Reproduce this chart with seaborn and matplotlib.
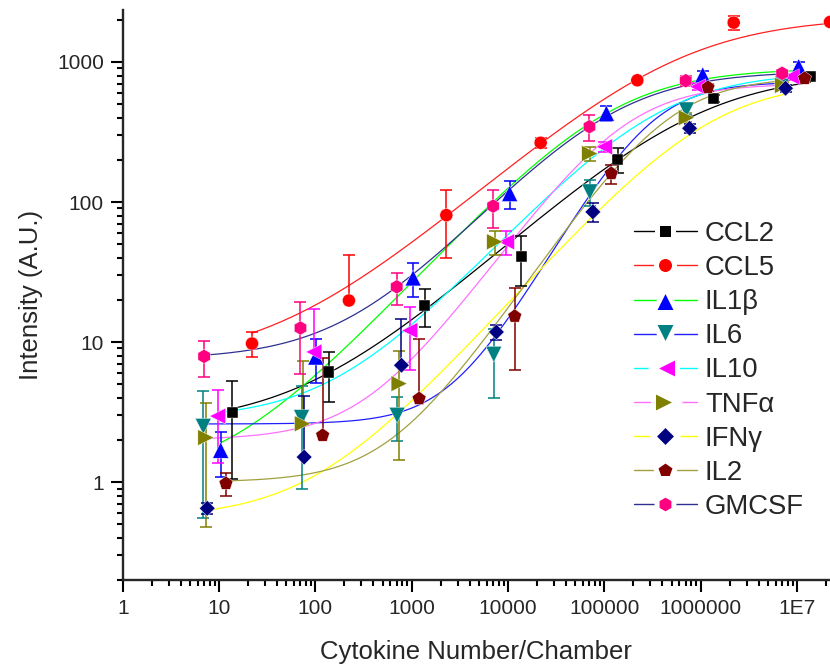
import numpy as np
import pandas as pd
import matplotlib
matplotlib.use("Agg")
import matplotlib.pyplot as plt
from matplotlib.lines import Line2D
from matplotlib.ticker import LogLocator, FixedLocator, FixedFormatter, NullFormatter
import seaborn as sns

sns.set_style("ticks")
plt.rcParams['font.family'] = ['Liberation Sans', 'DejaVu Sans']

# ---------------- data ----------------
cytokines = ["CCL2", "CCL5", "IL1β", "IL6", "IL10", "TNFα", "IFNγ", "IL2", "GMCSF"]

x_CCL2 = [13.7, 137, 1370, 13700, 1.37e5, 1.37e6, 1.37e7]
y_CCL2 = [3.16, 6.11, 18.3, 41.1, 202, 547, 785]
e_CCL2 = [2.1, 2.4, 5.5, 16, 40, 30, 30]

x_CCL5 = [22, 223, 2290, 21800, 2.2e5, 2.2e6, 2.2e7]
y_CCL5 = [9.76, 19.8, 80.6, 265, 740, 1910, 1930]
e_CCL5 = [2.0, 22, 41, 20, 20, 220, 0]

x_IL1b = [10.4, 101, 1035, 10400, 1.05e5, 1.05e6, 1.04e7]
y_IL1b = [1.69, 7.82, 28.7, 115, 430, 808, 925]
e_IL1b = [0.6, 2.7, 7.7, 26, 52, 60, 80]

x_IL6 = [6.86, 71.9, 706, 7110, 70500, 7.1e5, 7.1e6]
y_IL6 = [2.5, 2.89, 3.0, 8.18, 118, 454, 700]
e_IL6 = [1.95, 2.0, 1.05, 4.2, 25, 35, 40]

x_IL10 = [9.67, 96.5, 955, 9620, 1.0e5, 9.35e5, 8.7e6]
y_IL10 = [2.96, 8.5, 12.1, 52, 248, 666, 785]
e_IL10 = [1.6, 8.7, 5.8, 10, 20, 40, 40]

x_TNFa = [7.3, 73.6, 740, 7280, 70500, 7.1e5, 7.1e6]
y_TNFa = [2.08, 2.61, 5.05, 52, 222, 400, 680]
e_TNFa = [1.6, 4.7, 3.6, 10, 25, 30, 40]

x_IFNg = [7.55, 76.5, 783, 7580, 7.6e4, 7.67e5, 7.6e6]
y_IFNg = [0.65, 1.51, 6.83, 11.8, 85, 336, 649]
e_IFNg = [0.06, 2.6, 7.9, 1.5, 13, 25, 40]

x_IL2 = [11.8, 119, 1194, 11740, 1.18e5, 1.19e6, 1.2e7]
y_IL2 = [0.98, 2.16, 3.95, 15.3, 160, 659, 764]
e_IL2 = [0.19, 5.5, 6.6, 9, 25, 40, 40]

x_GMCSF = [7, 70, 700, 7000, 7e4, 7e5, 7e6]
y_GMCSF = [7.9, 12.6, 24.8, 93.5, 345, 735, 830]
e_GMCSF = [2.3, 6.7, 6.3, 28, 73, 60, 40]

# logistic fit parameters (Origin form: y = A2 + (A1-A2)/(1+(x/x0)^p))
fit_A1 = [2.5, 7.0, 1.0, 2.6, 2.8, 2.0, 0.55, 1.0, 7.5]
fit_A2 = [850, 2100, 900, 720, 850, 700, 740, 780, 860]
fit_x0 = [9.34e5, 5.9e5, 1.19e5, 2.95e5, 3.48e5, 1.6e5, 1.25e6, 4.6e5, 1.23e5]
fit_p = [0.621, 0.6, 0.738, 1.2, 0.747, 0.95, 0.76, 1.0, 0.75]

x_ticks = [1, 10, 100, 1000, 1e4, 1e5, 1e6, 1e7]
x_ticklabels = ["1", "10", "100", "1000", "10000", "100000", "1000000", "1E7"]
y_ticks = [1, 10, 100, 1000]
y_ticklabels = ["1", "10", "100", "1000"]

# ---------------- styles ----------------
xs_all = [x_CCL2, x_CCL5, x_IL1b, x_IL6, x_IL10, x_TNFa, x_IFNg, x_IL2, x_GMCSF]
ys_all = [y_CCL2, y_CCL5, y_IL1b, y_IL6, y_IL10, y_TNFa, y_IFNg, y_IL2, y_GMCSF]
es_all = [e_CCL2, e_CCL5, e_IL1b, e_IL6, e_IL10, e_TNFa, e_IFNg, e_IL2, e_GMCSF]

marker_colors = ["#000000", "#ff0000", "#0000ff", "#008080", "#ff00ff",
                 "#808000", "#000080", "#800000", "#ff0080"]
line_colors = ["#000000", "#ff2020", "#00ff00", "#2020ff", "#00ffff",
               "#ff70ff", "#ffff00", "#a0a040", "#303090"]
markers = ["s", "o", "^", "v", "<", ">", "D", "p", "h"]
msizes = [8.0, 9.4, 11.5, 11.5, 11.5, 11.5, 8.0, 10.5, 10.2]
leg_extra = [3.6, 3.6, 5.2, 5.2, 5.2, 5.2, 4.5, 4.0, 3.8]

pal_m = dict(zip(cytokines, marker_colors))
pal_l = dict(zip(cytokines, line_colors))
mark_d = dict(zip(cytokines, markers))
size_d = dict(zip(cytokines, [m ** 2 for m in msizes]))

rows = []
crows = []
for name, xs, ys, es, a1, a2, x0, p in zip(cytokines, xs_all, ys_all, es_all,
                                            fit_A1, fit_A2, fit_x0, fit_p):
    for xv, yv, ev in zip(xs, ys, es):
        rows.append(dict(cytokine=name, x=xv, y=yv, err=ev))
    xc = np.logspace(np.log10(xs[0]), np.log10(xs[-1]), 300)
    yc = a2 + (a1 - a2) / (1 + (xc / x0) ** p)
    for xv, yv in zip(xc, yc):
        crows.append(dict(cytokine=name, x=xv, y=yv))
pts = pd.DataFrame(rows)
curves = pd.DataFrame(crows)

# ---------------- figure ----------------
W, H = 830, 667
fig = plt.figure(figsize=(W / 100, H / 100), dpi=100)
L, R, B, T = 122.7, 830, 580, 10
ax = fig.add_axes([L / W, (H - B) / H, (R - L) / W, (B - T) / H])
ax.set_xscale("log")
ax.set_yscale("log")

sns.lineplot(data=curves, x="x", y="y", hue="cytokine", palette=pal_l,
             estimator=None, sort=False, linewidth=0.9, legend=False, ax=ax, zorder=2)

for name, g in pts.groupby("cytokine", sort=False):
    yv = g["y"].to_numpy()
    ev = g["err"].to_numpy()
    lower = np.where(ev < yv, ev, 0.0)
    ax.errorbar(g["x"], yv, yerr=[lower, ev], fmt="none", ecolor=pal_m[name],
                elinewidth=1.1, capsize=4.5, capthick=1.1, zorder=3)

sns.scatterplot(data=pts, x="x", y="y", hue="cytokine", style="cytokine",
                size="cytokine", palette=pal_m, markers=mark_d, sizes=size_d,
                linewidth=0.3, legend=False, ax=ax, zorder=4, clip_on=False)

ax.set_xlim(1, 2.2e7)
ax.set_ylim(0.2, 2350)

sns.despine(ax=ax)
for s in ["left", "bottom"]:
    ax.spines[s].set_linewidth(1.7)

ax.xaxis.set_major_locator(FixedLocator(x_ticks))
ax.xaxis.set_major_formatter(FixedFormatter(x_ticklabels))
ax.yaxis.set_major_locator(FixedLocator(y_ticks))
ax.yaxis.set_major_formatter(FixedFormatter(y_ticklabels))
ax.xaxis.set_minor_locator(LogLocator(base=10, subs=np.arange(2, 10), numticks=30))
ax.yaxis.set_minor_locator(LogLocator(base=10, subs=np.arange(2, 10), numticks=30))
ax.xaxis.set_minor_formatter(NullFormatter())
ax.yaxis.set_minor_formatter(NullFormatter())
ax.tick_params(which="major", direction="out", length=8.5, width=1.5,
               labelsize=15, pad=5, color="black")
ax.tick_params(which="minor", direction="out", length=4.5, width=1.5, color="black")

ax.set_xlabel("Cytokine Number/Chamber", fontsize=18.5, labelpad=16)
ax.set_ylabel("Intensity (A.U.)", fontsize=18.5, labelpad=10)

handles = []
for name, mc, lc, m, ms, ex in zip(cytokines, marker_colors, line_colors, markers,
                                   msizes, leg_extra):
    handles.append(Line2D([], [], color=lc, lw=1.0, marker=m, markersize=ms + ex,
                          markerfacecolor=mc, markeredgecolor="white",
                          markeredgewidth=3.6))
leg = ax.legend(handles, cytokines, loc="upper left",
                bbox_to_anchor=(634 / W, (H - 221) / H), bbox_transform=fig.transFigure,
                frameon=False, fontsize=19.8, handlelength=2.29, handletextpad=0.29,
                labelspacing=0.295, borderpad=0, borderaxespad=0, numpoints=1)

fig.savefig("out.png", dpi=100)
